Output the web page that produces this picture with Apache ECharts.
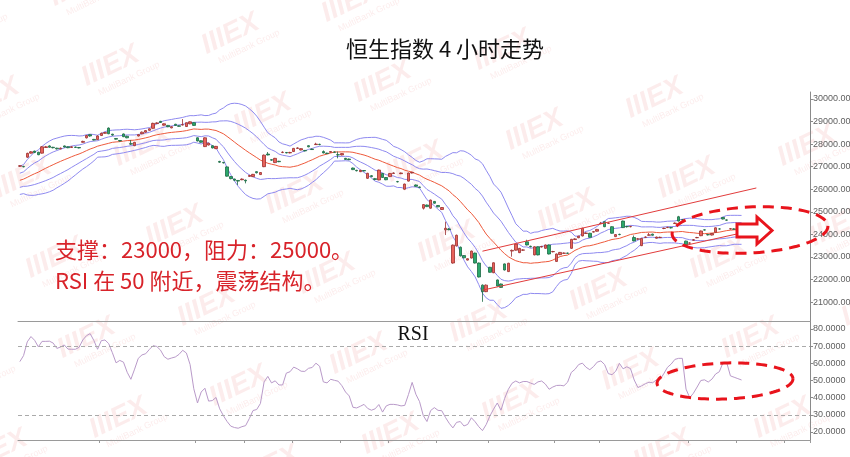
<!DOCTYPE html>
<html><head><meta charset="utf-8">
<script src="https://cdn.jsdelivr.net/npm/echarts@6/dist/echarts.min.js"></script>
<style>html,body{margin:0;padding:0;background:#fff}#c{width:850px;height:457px}</style>
</head><body><div id="c"></div>
<script>
// ---- data (4-hour candles) ----
const opens=[27020,27010,27420,27600,27690,27640,27600,27850,27920,27860,
27820,27790,27920,27880,27850,27870,27850,28080,28280,28420,
28210,28200,28380,28480,28710,28440,28250,28160,28450,28350,
28020,27930,28360,28460,28530,28610,28700,28910,29010,28840,
28830,28720,28880,28810,28850,28780,28900,28950,28280,28150,
27890,27960,27930,27800,27230,27190,26990,26560,26450,26390,
26420,26400,26570,26560,26780,26650,27000,27560,27310,27180,
27240,27630,27630,27610,27670,27810,27740,27720,27930,27780,
27980,27990,27670,27600,27640,27650,27530,27520,27370,27340,
26940,26840,26780,26830,26485,26600,26470,26410,26700,26520,
26560,26700,26340,26690,26000,26360,26720,26190,26100,25160,
25300,25160,25460,25280,25100,24200,24240,22730,23490,23430,
23060,22860,22950,23170,22730,21750,21460,22540,22300,21980,
21800,22690,22350,23260,23300,23190,23300,23670,23470,23090,
23450,23440,23380,23530,23230,22800,23100,23160,23170,23380,
23770,23850,23930,24040,24050,24100,24140,24480,24560,24490,
24340,23900,24000,24590,24350,24340,23860,23790,23500,23870,
23960,24010,23830,23860,24260,24300,24300,24480,24780,24650,
23700,23610,23740,23850,23940,24200,23990,23970,24090,24240,
24750,24640,24240,24240,24240,24270];
const closes=[27040,26995,27590,27660,27630,27530,27880,27880,27860,27840,
27790,27820,27870,27840,27880,27855,27830,28120,28380,28360,
28180,28360,28480,28510,28460,28400,28220,28140,28330,28280,
28000,28080,28420,28530,28600,28680,28920,28940,28960,28900,
28770,28770,28830,28790,28860,28950,28990,28830,28140,28080,
28280,28040,27830,27900,27200,27170,26580,26470,26400,26360,
26450,26370,26610,26660,26730,26740,27510,27520,27290,27370,
27220,27640,27610,27630,27810,27830,27800,27700,27880,27760,
28000,27980,27610,27580,27670,27640,27520,27580,27320,27310,
26870,26820,26840,26810,26705,26560,26430,26850,26520,26420,
26700,26720,26330,26720,26230,26720,26750,26130,26080,25320,
25230,25520,25380,25220,25190,24270,24210,23520,23960,23050,
22960,22920,23260,22730,22110,21460,21750,22320,22740,21710,
21650,22420,22720,23290,23570,23380,23310,23530,23450,23450,
23090,23460,23530,23130,23240,23130,23200,23170,23160,23780,
23800,23920,24270,24060,23870,24120,24220,24490,24340,24500,
24050,23990,23990,24300,24340,24350,23710,23800,23820,23880,
23980,23960,23880,23870,24270,24310,24290,24500,24590,24640,
23530,23620,23760,23860,24150,24190,23980,24040,24290,24240,
24680,24630,24250,24230,24250,24260];
const lows=[26990,26970,27390,27580,27600,27510,27580,27830,27840,27810,
27760,27770,27850,27820,27830,27830,27810,28060,28250,28330,
28160,28180,28360,28460,28440,28370,28200,28110,28310,28260,
27960,27910,28340,28440,28510,28590,28680,28890,28940,28820,
28750,28700,28810,28770,28830,28760,28880,28810,28120,28060,
27870,27940,27810,27780,27170,27140,26560,26440,26360,26190,
26400,26260,26550,26540,26700,26630,26980,27500,27260,27160,
27200,27600,27590,27590,27650,27790,27720,27680,27860,27740,
27960,27950,27590,27560,27620,27620,27370,27500,27300,27290,
26850,26790,26760,26790,26460,26530,26400,26400,26510,26400,
26540,26680,26300,26670,25980,26340,26700,26110,26060,25100,
25210,25140,25360,25200,25080,23970,24180,22700,23460,23020,
22940,22840,22930,22710,22090,21010,21440,22300,22280,21690,
21630,22400,22330,23010,23280,23170,23270,23510,23420,23070,
23070,23420,23360,23110,23200,22780,23080,23140,23130,23360,
23750,23830,23910,24020,23850,24080,24120,24450,24320,24460,
24030,23880,23960,24280,24300,24310,23690,23760,23480,23840,
23940,23940,23810,23840,24230,24280,24260,24460,24570,24610,
23500,23580,23720,23830,23920,24170,23950,23950,24070,24210,
24660,24600,24220,24210,24200,24170];
const highs=[27070,27040,27620,27690,27710,27660,27910,27920,27950,27880,
27840,27850,27940,27900,27910,27890,27860,28150,28410,28440,
28230,28390,28510,28540,28740,28460,28270,28170,28470,28370,
28180,28100,28440,28560,28620,28700,28950,28970,29030,28920,
28850,28790,28900,28830,29110,28960,29010,28970,28300,28170,
28300,28060,27950,27920,27260,27210,27010,26580,26470,26410,
26480,26430,26640,26680,26800,26760,27540,27650,27330,27390,
27260,27680,27650,27660,27830,27860,27820,27740,27950,27800,
28060,28020,27720,27620,27690,27670,27670,27600,27390,27360,
26960,26860,26860,26850,26730,26630,26500,26870,26720,26540,
26720,26750,26370,26740,26250,26740,26770,26210,26120,25340,
25320,25540,25480,25300,25210,24560,24280,23550,23990,23460,
23080,22940,23280,23190,22750,21780,21780,22560,22760,22000,
21820,22710,22740,23330,23590,23400,23340,23760,23500,23470,
23470,23490,23550,23550,23270,23150,23220,23200,23190,23800,
23830,23940,24290,24090,24070,24150,24240,24550,24580,24530,
24360,24010,24030,24610,24380,24380,23950,23840,23840,23910,
24060,24030,23900,23900,24300,24340,24320,24530,24820,24680,
23720,23650,23790,23890,24170,24220,24010,24060,24310,24270,
24770,24660,24280,24270,24280,24300];
// closes before the first drawn candle (only feed the 20-period bands)
const priorCloses=[25950,26020,25980,26100,26150,26080,26200,26260,26310,26250,26400,26450,26520,26480,26600,26680,26750,26820,26900];
const rsi=[61,64.5,72.5,75.6,73.4,69.6,72.8,72.8,72.9,71.8,
68.7,69.5,70.7,68.3,68.2,68.2,69.3,73.6,76.1,77.3,
73.3,68.2,73.2,73.6,71.5,66.2,60.3,61.7,60.7,54.8,
50.7,56.6,62.9,64.9,65.6,68.1,70.3,69.8,67.7,63.9,
62.4,63.1,63.7,65.2,67.6,66,59.3,45.2,36.9,43.3,
45.5,38,38.3,40.1,33.5,29.5,26.1,23.4,22.6,22.2,
23.1,23.7,27.8,32.5,33.1,36.6,49.2,52.4,48.6,49.8,
47.4,47.4,54.3,55.1,57.8,56.8,55.4,55.3,57.1,57.6,
60.1,58.3,49.2,48.6,50.7,50.1,49.6,47,43.3,41,
34.4,34,35,36.1,33.7,32.7,33.5,36,31.6,35.2,
36.1,36.1,35.8,35.2,35.5,41.8,48.9,42,37.7,29.6,
26.1,32.5,34.2,32.6,32.4,28.5,25.1,22.4,25.6,26.1,
23.5,24.4,28.3,26,23.1,20.8,24.3,29.3,33.3,36.9,
32.7,39.6,44.9,48.4,49.7,48.6,49.4,49.4,48.5,47.7,
49.2,49.7,47.9,44.9,46.2,47.1,47.2,46.9,49,54.7,
56.5,59.3,60.1,57.7,56.3,58.1,60.7,61.4,59.3,54,
53.4,55.4,60,56.8,58,56.9,50.3,45.9,46.9,48.1,
49,48.7,50.4,50.7,54,57.7,59.6,62.3,62.9,62.9,
45,40,42.6,46.2,50,50.4,49.1,50.8,53.8,55.1,
60.4,60.4,52.7,51.9,51.1,50.3];
const slotCount=214;
const priceTicks=[21000,22000,23000,24000,25000,26000,27000,28000,29000,30000];
const rsiTicks=[20,30,40,50,60,70,80];
const rsiLevels=[70,30];
const channelUpper=[[125,23254],[199,26056]];
const channelLower=[[125,21526],[199,24207]];
const rsiTickSlots=[22,48,61,74,87,100,113,127,145,157,181,194,207];
const titleText='恒生指数 4 小时走势';
const note1='支撑：23000，阻力：25000。';
const note2='RSI 在 50 附近，震荡结构。';

// ---- derived: Bollinger(20) from closes ----
const allC=priorCloses.concat(closes);
const P=20, off=priorCloses.length;
const mid=[],sd=[];
for(let i=0;i<closes.length;i++){
  const j=i+off; const w=allC.slice(Math.max(0,j-P+1),j+1);
  const m=w.reduce((a,b)=>a+b,0)/w.length;
  const v=w.reduce((a,b)=>a+(b-m)*(b-m),0)/w.length;
  mid.push(m); sd.push(Math.sqrt(v));
}
const band=k=>mid.map((m,i)=>+(m+k*sd[i]).toFixed(1));

const cats=Array.from({length:slotCount},(_,i)=>String(i));
const candles=opens.map((o,i)=>[o,closes[i],lows[i],highs[i]]);

function ellipse(cx,cy,rx,ry,rotDeg){
  const r=rotDeg*Math.PI/180,pts=[];
  for(let k=0;k<=120;k++){const t=2*Math.PI*k/120;const x=rx*Math.cos(t),y=ry*Math.sin(t);
    pts.push([cx+x*Math.cos(r)-y*Math.sin(r),cy+x*Math.sin(r)+y*Math.cos(r)]);}
  return pts;
}
// faint background watermark tiles (decoration)
const wm=[];
for(let i=-4;i<=6;i++){for(let j=-6;j<=6;j++){
  const x=87+i*152+j*120, y=340+i*48-j*32;
  if(x<-60||x>900||y<-30||y>490) continue;
  wm.push({type:'group',x,y,rotation:0.45,z:-5,silent:true,children:[
    {type:'text',x:-30,y:-16,style:{text:'IIIEX',font:'italic bold 28px "Liberation Sans"',fill:'rgba(228,70,70,0.10)'}},
    {type:'text',x:-22,y:13,style:{text:'MultiBank Group',font:'9px "Liberation Sans"',fill:'rgba(228,70,70,0.10)'}}
  ]});
}}
const RED='#e8141c';
const bandLine=(name,data,color)=>({name,type:'line',xAxisIndex:0,yAxisIndex:0,data,showSymbol:false,symbol:'none',
  lineStyle:{color,width:1},itemStyle:{color},z:2,silent:true});

const chart=echarts.init(document.getElementById('c'),null,{renderer:'canvas'});
chart.setOption({
  animation:false,
  backgroundColor:'#fff',
  grid:[{left:18,right:40,top:92,bottom:136,containLabel:false,outerBoundsMode:'none'},
        {left:18,right:40,top:321,bottom:17,containLabel:false,outerBoundsMode:'none'}],
  xAxis:[
    {type:'category',gridIndex:0,data:cats,boundaryGap:true,axisLine:{show:true,lineStyle:{color:'#9a9a9a'}},axisTick:{show:false},axisLabel:{show:false},splitLine:{show:false}},
    {type:'category',gridIndex:1,data:cats,boundaryGap:true,axisLine:{show:true,lineStyle:{color:'#9a9a9a'}},
     axisTick:{show:true,length:3,interval:(idx)=>rsiTickSlots.includes(idx),lineStyle:{color:'#9a9a9a'}},axisLabel:{show:false},splitLine:{show:false}}
  ],
  yAxis:[
    {type:'value',gridIndex:0,position:'right',min:20160,max:30310,scale:true,
     axisLine:{show:true,lineStyle:{color:'#8a8a8a'}},
     axisTick:{show:true,length:3,customValues:priceTicks,lineStyle:{color:'#8a8a8a'}},
     axisLabel:{customValues:priceTicks,formatter:v=>Number(v).toFixed(4),fontSize:9,color:'#606060',margin:3,fontFamily:'Liberation Sans, Arial'},
     splitLine:{show:false}},
    {type:'value',gridIndex:1,position:'right',min:15.34,max:84.66,
     axisLine:{show:true,lineStyle:{color:'#8a8a8a'}},
     axisTick:{show:true,length:3,customValues:rsiTicks,lineStyle:{color:'#8a8a8a'}},
     axisLabel:{customValues:rsiTicks,formatter:v=>Number(v).toFixed(4),fontSize:9,color:'#606060',margin:3,fontFamily:'Liberation Sans, Arial'},
     splitLine:{show:false}}
  ],
  series:[
    bandLine('上轨2',band(2),'#8f8af0'),
    bandLine('上轨1',band(1),'#8f8af0'),
    bandLine('中轨',mid.map(v=>+v.toFixed(1)),'#ee5a3c'),
    bandLine('下轨1',band(-1),'#8f8af0'),
    bandLine('下轨2',band(-2),'#8f8af0'),
    {type:'candlestick',name:'HSI',xAxisIndex:0,yAxisIndex:0,data:candles,barWidth:3,z:3,
     itemStyle:{color:'#e8625a',color0:'#2aa86c',borderColor:'#9c3030',borderColor0:'#1e6a45',borderWidth:0.8},
     markLine:{silent:true,symbol:['none','none'],label:{show:false},lineStyle:{color:'#e23c3c',width:1,type:'solid'},
       data:[[{coord:channelUpper[0]},{coord:channelUpper[1]}],[{coord:channelLower[0]},{coord:channelLower[1]}]]}},
    {type:'line',name:'RSI',xAxisIndex:1,yAxisIndex:1,data:rsi,showSymbol:false,symbol:'none',
     lineStyle:{color:'#b99ac9',width:1},itemStyle:{color:'#b99ac9'},
     markLine:{silent:true,symbol:['none','none'],label:{show:false},lineStyle:{color:'#aaaaaa',width:1,type:[4,3]},
       data:rsiLevels.map(v=>({yAxis:v}))}}
  ],
  graphic:wm.concat([
    {type:'text',x:445,y:49,z:50,style:{text:titleText,font:'22px "Noto Sans CJK SC"',fill:'#111',textAlign:'center',textVerticalAlign:'middle'}},
    {type:'text',x:55,y:250,z:50,style:{text:note1,font:'22px "Noto Sans CJK SC"',fill:'#d8232a',textAlign:'left',textVerticalAlign:'middle'}},
    {type:'text',x:55,y:281,z:50,style:{text:note2,font:'22px "Noto Sans CJK SC"',fill:'#d8232a',textAlign:'left',textVerticalAlign:'middle'}},
    {type:'text',x:413,y:335,z:50,style:{text:'RSI',font:'20px "Liberation Serif"',fill:'#111',textAlign:'center',textVerticalAlign:'middle'}},
    {type:'polyline',z:60,shape:{points:ellipse(750,230,78,23,-3)},style:{stroke:RED,lineWidth:3,lineDash:[11,7],fill:null}},
    {type:'polyline',z:60,shape:{points:ellipse(725,381,68,18,-2)},style:{stroke:RED,lineWidth:3,lineDash:[11,7],fill:null}},
    {type:'polygon',z:61,shape:{points:[[737,224],[757,224],[757,217],[772,230.5],[757,244],[757,237],[737,237]]},style:{fill:'#fff',stroke:RED,lineWidth:3}}
  ])
});
</script></body></html>
